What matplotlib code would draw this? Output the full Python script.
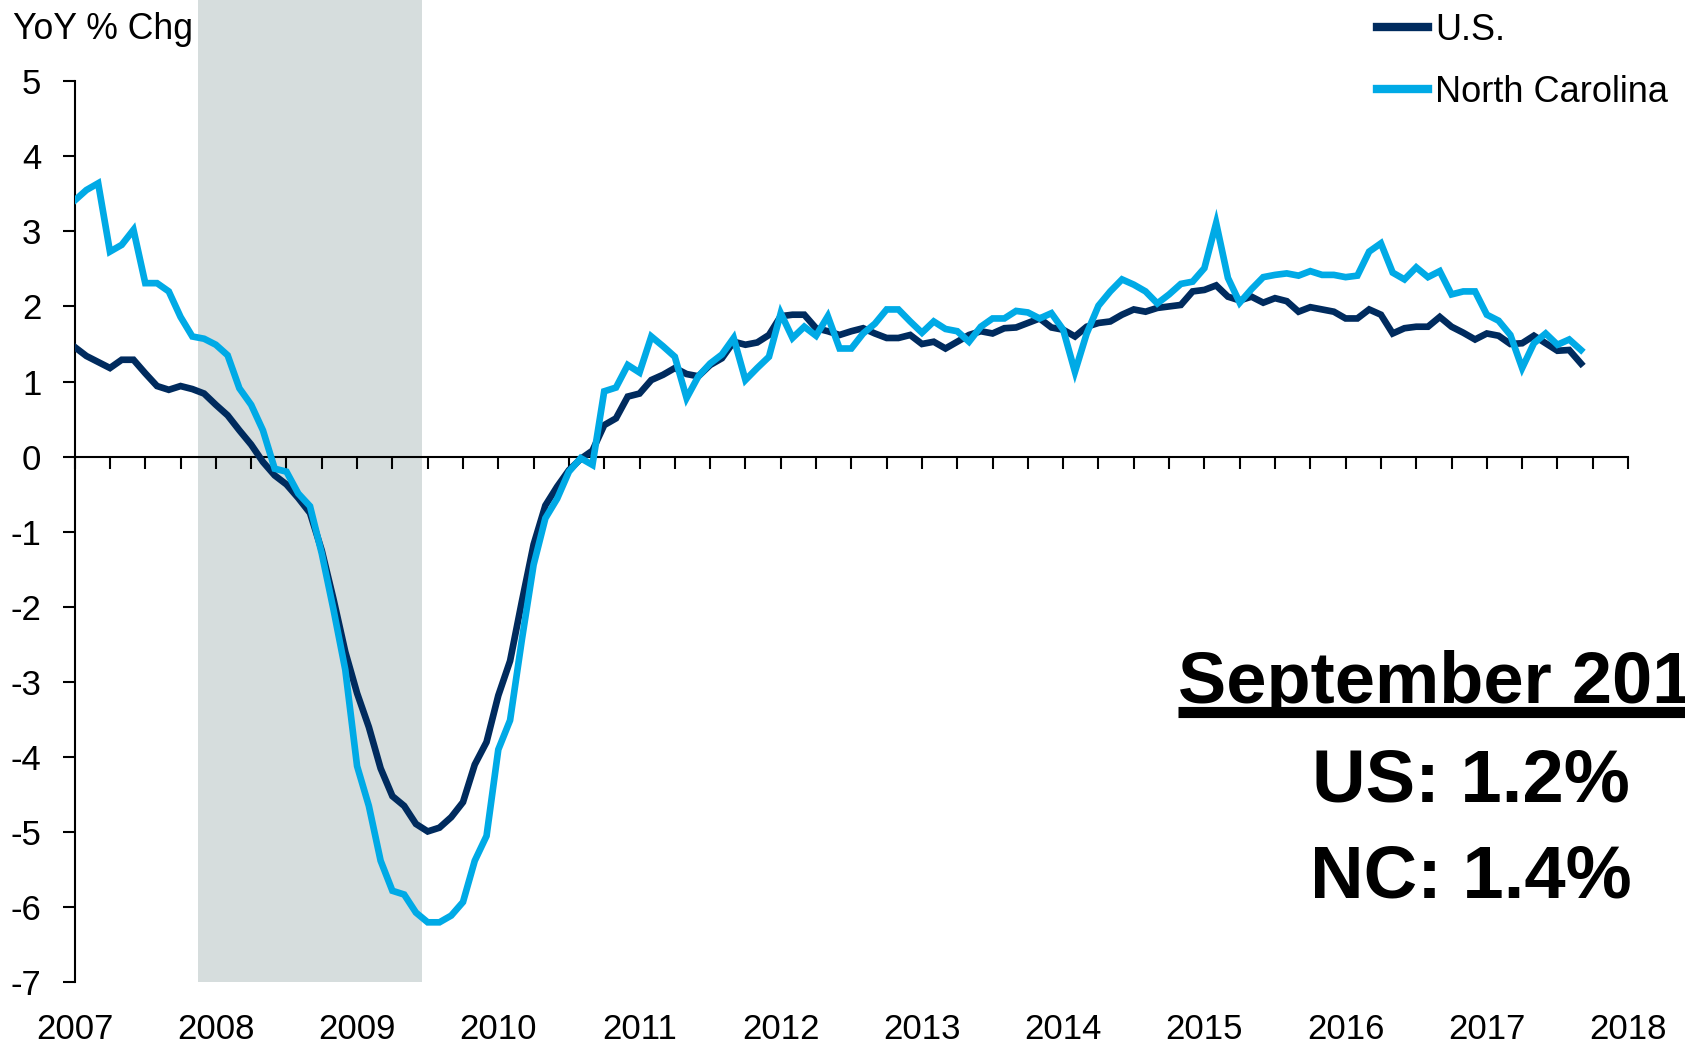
import numpy as np
import matplotlib
matplotlib.use("Agg")
import matplotlib.pyplot as plt
from matplotlib.lines import Line2D

plt.rcParams['font.family'] = ['Liberation Sans', 'DejaVu Sans']
plt.rcParams['axes.unicode_minus'] = False

# Monthly YoY % change in employment, Jan 2007 - Sep 2017
start_year = 2007
us = [
    1.46, 1.34, 1.26, 1.18, 1.29, 1.29, 1.11, 0.94, 0.89, 0.94, 0.90, 0.84,
    0.69, 0.55, 0.35, 0.16, -0.07, -0.25, -0.37, -0.55, -0.75, -1.25, -1.90, -2.60,
    -3.15, -3.60, -4.15, -4.52, -4.65, -4.89, -4.99, -4.94, -4.80, -4.60, -4.10, -3.80,
    -3.18, -2.72, -1.93, -1.17, -0.65, -0.40, -0.18, -0.03, 0.08, 0.42, 0.51, 0.80,
    0.84, 1.02, 1.09, 1.18, 1.10, 1.07, 1.22, 1.31, 1.53, 1.49, 1.52, 1.62,
    1.87, 1.89, 1.89, 1.71, 1.67, 1.62, 1.67, 1.71, 1.64, 1.58, 1.58, 1.62,
    1.50, 1.53, 1.44, 1.53, 1.62, 1.67, 1.64, 1.71, 1.72, 1.78, 1.84, 1.72,
    1.69, 1.60, 1.73, 1.78, 1.80, 1.89, 1.96, 1.93, 1.98, 2.00, 2.02, 2.20,
    2.22, 2.28, 2.13, 2.08, 2.13, 2.05, 2.11, 2.07, 1.93, 1.99, 1.96, 1.93,
    1.84, 1.84, 1.96, 1.89, 1.64, 1.71, 1.73, 1.73, 1.86, 1.73, 1.65, 1.56,
    1.64, 1.61, 1.50, 1.51, 1.61, 1.51, 1.41, 1.42, 1.24,
]
nc = [
    3.41, 3.55, 3.64, 2.73, 2.82, 3.02, 2.31, 2.31, 2.20, 1.86, 1.60, 1.57,
    1.49, 1.35, 0.91, 0.69, 0.35, -0.16, -0.20, -0.49, -0.66, -1.29, -2.04, -2.84,
    -4.12, -4.65, -5.38, -5.78, -5.83, -6.07, -6.20, -6.20, -6.11, -5.93, -5.38, -5.05,
    -3.90, -3.51, -2.44, -1.44, -0.82, -0.56, -0.20, -0.02, -0.11, 0.87, 0.92, 1.22,
    1.12, 1.60, 1.47, 1.33, 0.78, 1.07, 1.24, 1.36, 1.58, 1.02, 1.18, 1.33,
    1.91, 1.58, 1.73, 1.61, 1.87, 1.44, 1.44, 1.64, 1.77, 1.96, 1.96, 1.80,
    1.65, 1.80, 1.70, 1.67, 1.53, 1.73, 1.84, 1.84, 1.94, 1.92, 1.84, 1.91,
    1.69, 1.13, 1.64, 2.01, 2.20, 2.36, 2.29, 2.20, 2.04, 2.16, 2.30, 2.33,
    2.51, 3.11, 2.38, 2.05, 2.23, 2.39, 2.42, 2.44, 2.41, 2.47, 2.42, 2.42,
    2.39, 2.41, 2.73, 2.84, 2.45, 2.36, 2.52, 2.39, 2.47, 2.16, 2.20, 2.20,
    1.89, 1.81, 1.62, 1.18, 1.51, 1.64, 1.49, 1.56, 1.42,
]
recession = (2007 + 11 / 12, 2009 + 5 / 12)   # Dec 2007 - Jun 2009
year_labels = list(range(2007, 2019))
y_ticks = list(range(-7, 6))

US_COLOR = '#002B5E'
NC_COLOR = '#00AAE6'
SHADE = '#D6DDDD'

x = start_year + np.arange(len(us)) / 12

fig = plt.figure(figsize=(16.85, 10.45), dpi=100)
ax = fig.add_axes([0.0443, 0.0599, 0.9219, 0.9401])

ax.axvspan(recession[0] - 1 / 24, recession[1] + 1 / 24, color=SHADE, lw=0, zorder=0)
ax.plot(x, us, color=US_COLOR, lw=4.8, label='U.S.', zorder=3, solid_joinstyle='miter')
ax.plot(x, nc, color=NC_COLOR, lw=4.8, label='North Carolina', zorder=4, solid_joinstyle='miter')

ax.set_xlim(2007, 2018)
ax.set_ylim(-7, 6.08)

# axes styling: y spine -7..5, x spine at zero
for s in ['top', 'right']:
    ax.spines[s].set_visible(False)
ax.spines['left'].set_bounds(-7, 5)
ax.spines['bottom'].set_position(('data', 0))
for s in ['left', 'bottom']:
    ax.spines[s].set_linewidth(1.5)
    ax.spines[s].set_zorder(2)

ax.set_yticks(y_ticks)
ax.set_yticklabels([str(t) for t in y_ticks])
ax.tick_params(axis='y', direction='out', length=9, width=1.5, pad=15, labelsize=25)
ax.set_xticks(np.arange(2007, 2018.01, 0.25))
ax.tick_params(axis='x', direction='out', length=8.5, width=1.5, labelbottom=False)

# year labels at the bottom of the plot area
sec = ax.secondary_xaxis('bottom')
sec.set_xticks(year_labels)
sec.set_xticklabels([str(y) for y in year_labels])
sec.tick_params(length=0, pad=22, labelsize=25)
sec.spines['bottom'].set_visible(False)

fig.text(12.5 / 1685, 1 - 39 / 1045, 'YoY % Chg', fontsize=25.7, ha='left', va='baseline')

leg = ax.legend(loc='upper left', bbox_to_anchor=(1377 / 1685, 1 - 13 / 1045),
                bbox_transform=fig.transFigure, frameon=False, fontsize=26,
                handlelength=1.4, handletextpad=0.2, labelspacing=0.74,
                borderpad=0, borderaxespad=0)
for h in leg.get_lines():
    h.set_linewidth(6)

# summary annotation (title runs off the right edge as in source)
t1 = fig.text(1178 / 1685, 1 - 703 / 1045, 'September 2017', fontsize=52, fontweight='bold',
              ha='left', va='baseline')
cx = 1471 / 1685
fig.text(cx, 1 - 801 / 1045, 'US: 1.2%', fontsize=53.5, fontweight='bold',
         ha='center', va='baseline')
fig.text(cx, 1 - 897 / 1045, 'NC: 1.4%', fontsize=53.5, fontweight='bold',
         ha='center', va='baseline')

fig.canvas.draw()
bb = t1.get_window_extent(renderer=fig.canvas.get_renderer())
uy = (1045 - 711.5) / 1045
fig.add_artist(Line2D([bb.x0 / 1685, bb.x1 / 1685], [uy, uy],
                      transform=fig.transFigure, color='black', lw=8,
                      solid_capstyle='butt'))

fig.savefig('out.png', dpi=100)
